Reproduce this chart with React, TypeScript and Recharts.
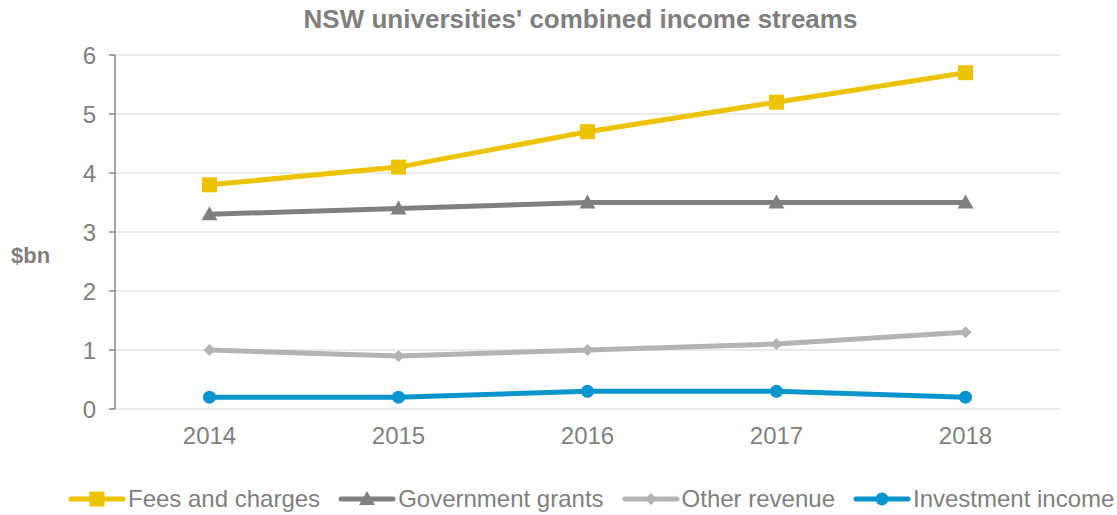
import React from 'react';
import { LineChart, Line, XAxis, YAxis, CartesianGrid, Legend } from 'recharts';

const years = ['2014', '2015', '2016', '2017', '2018'];
const fees = [3.8, 4.1, 4.7, 5.2, 5.7];
const grants = [3.3, 3.4, 3.5, 3.5, 3.5];
const other = [1.0, 0.9, 1.0, 1.1, 1.3];
const investment = [0.2, 0.2, 0.3, 0.3, 0.2];
const yTicks = [0, 1, 2, 3, 4, 5, 6];

const GRAY = '#7f7f7f';
const FONT = 'Arial, "Liberation Sans", sans-serif';

type Shape = 'square' | 'triangle' | 'diamond' | 'circle';

const series: { key: string; name: string; color: string; shape: Shape }[] = [
  { key: 'fees', name: 'Fees and charges', color: '#ebc300', shape: 'square' },
  { key: 'grants', name: 'Government grants', color: '#808080', shape: 'triangle' },
  { key: 'other', name: 'Other revenue', color: '#b3b3b3', shape: 'diamond' },
  { key: 'investment', name: 'Investment income', color: '#0a96cc', shape: 'circle' },
];

const data = years.map((y, i) => ({
  idx: i,
  year: y,
  fees: fees[i],
  grants: grants[i],
  other: other[i],
  investment: investment[i],
}));

// marker drawn around a point
const marker = (shape: Shape, cx: number, cy: number, color: string, key?: any) => {
  switch (shape) {
    case 'square':
      return <rect key={key} x={cx - 7.5} y={cy - 7.5} width={15} height={15} fill={color} />;
    case 'triangle':
      return <path key={key} d={`M${cx},${cy - 8} L${cx + 8},${cy + 6} L${cx - 8},${cy + 6} Z`} fill={color} />;
    case 'diamond':
      return <path key={key} d={`M${cx},${cy - 6} L${cx + 6},${cy} L${cx},${cy + 6} L${cx - 6},${cy} Z`} fill={color} />;
    default:
      return <circle key={key} cx={cx} cy={cy} r={6.5} fill={color} />;
  }
};

const LegendContent = () => (
  <div style={{ display: 'flex', alignItems: 'center', paddingLeft: 68, fontFamily: FONT, fontSize: 24, color: GRAY }}>
    {series.map((s) => (
      <div key={s.key} style={{ display: 'flex', alignItems: 'center', marginRight: 18 }}>
        <svg width={58} height={20}>
          <line x1={3} y1={10} x2={55} y2={10} stroke={s.color} strokeWidth={5} strokeLinecap="round" />
          {marker(s.shape, 29, 10, s.color)}
        </svg>
        <span style={{ marginLeft: 2, whiteSpace: 'nowrap' }}>{s.name}</span>
      </div>
    ))}
  </div>
);

export default function App() {
  return (
    <div style={{ position: 'absolute', left: 0, top: 0, width: 1117, height: 515, background: '#fff' }}>
      <div
        style={{
          position: 'absolute',
          top: 4,
          left: 0,
          width: 1161,
          textAlign: 'center',
          fontFamily: FONT,
          fontWeight: 'bold',
          fontSize: 26,
          color: GRAY,
        }}
      >
        NSW universities' combined income streams
      </div>
      <LineChart width={1117} height={515} data={data} margin={{ top: 55, right: 57, left: 0, bottom: 0 }}>
        <CartesianGrid horizontal vertical={false} stroke="#e3e3e3" strokeWidth={1.5} xAxisId="ticks" />
        {/* tick marks between categories */}
        <XAxis
          xAxisId="ticks"
          type="number"
          domain={[-0.5, 4.5]}
          ticks={[-0.5, 0.5, 1.5, 2.5, 3.5, 4.5]}
          tick={false}
          tickSize={7}
          height={0}
          stroke="#888"
          strokeWidth={1.5}
          allowDataOverflow
        />
        <XAxis
          xAxisId="labels"
          dataKey="idx"
          type="number"
          domain={[-0.5, 4.5]}
          ticks={[0, 1, 2, 3, 4]}
          tickFormatter={(v: number) => years[v]}
          axisLine={false}
          tickLine={false}
          tickSize={6}
          tickMargin={12}
          height={76}
          tick={{ fill: GRAY, fontSize: 24, fontFamily: FONT }}
          allowDataOverflow
        />
        <YAxis
          domain={[0, 6]}
          ticks={yTicks}
          width={115}
          stroke="#888"
          strokeWidth={1.5}
          tickSize={6}
          tickMargin={13}
          tick={{ fill: GRAY, fontSize: 24, fontFamily: FONT }}
          label={{
            content: () => (
              <text x={11} y={263} fill={GRAY} fontFamily={FONT} fontWeight="bold" fontSize={22}>
                $bn
              </text>
            ),
          }}
        />
        <Legend verticalAlign="bottom" height={30} wrapperStyle={{ left: 0, width: 1117 }} content={LegendContent} />
        {series.map((s) => (
          <Line
            key={s.key}
            xAxisId="labels"
            dataKey={s.key}
            name={s.name}
            stroke={s.color}
            strokeWidth={5}
            isAnimationActive={false}
            dot={(p: any) => marker(s.shape, p.cx, p.cy, s.color, p.index)}
            activeDot={false}
          />
        ))}
      </LineChart>
    </div>
  );
}
